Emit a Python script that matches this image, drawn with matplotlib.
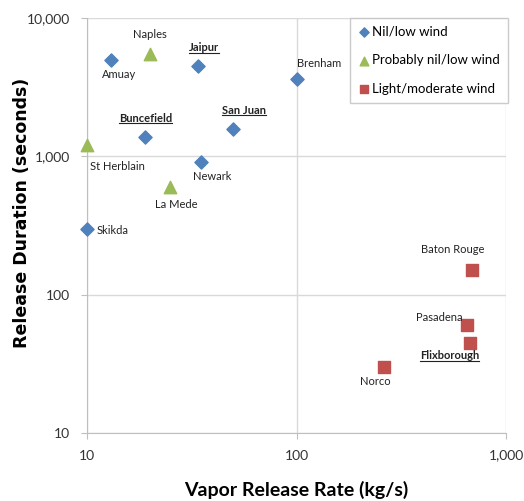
import matplotlib
matplotlib.use("Agg")
import matplotlib.pyplot as plt
from matplotlib.lines import Line2D
from matplotlib.ticker import FixedLocator, FuncFormatter, NullLocator

plt.rcParams['font.family'] = ['Lato', 'DejaVu Sans']

# incidents: name, release rate (kg/s), duration (s)
nil_names = ['Amuay', 'Jaipur', 'Buncefield', 'San Juan', 'Newark', 'Skikda', 'Brenham']
nil_rate = [13, 34, 19, 50, 35, 10, 100]
nil_dur = [5000, 4500, 1370, 1570, 905, 300, 3600]

prob_names = ['Naples', 'St Herblain', 'La Mede']
prob_rate = [20, 10, 25]
prob_dur = [5500, 1200, 600]

wind_names = ['Baton Rouge', 'Pasadena', 'Flixborough', 'Norco']
wind_rate = [690, 650, 675, 260]
wind_dur = [150, 60, 45, 30]

underlined = ['Jaipur', 'Buncefield', 'San Juan', 'Flixborough']

# label offsets in pixels (dx, dy, ha)
offsets = {
    'Amuay': (8, -15, 'center'), 'Jaipur': (6, 18, 'center'),
    'Buncefield': (0, 19, 'center'), 'San Juan': (11, 19, 'center'),
    'Newark': (11, -14, 'center'), 'Skikda': (10, -2, 'left'),
    'Brenham': (0, 16, 'left'), 'Naples': (0, 19, 'center'),
    'St Herblain': (3, -21, 'left'), 'La Mede': (6, -18, 'center'),
    'Baton Rouge': (-20, 21, 'center'), 'Pasadena': (-4, 8, 'right'),
    'Flixborough': (-21, -13, 'center'), 'Norco': (-8, -15, 'center'),
}

fig = plt.figure(figsize=(5.24, 5.01), dpi=100)
ax = fig.add_axes([0.166, 0.136, 0.8, 0.828])

ax.scatter(nil_rate, nil_dur, marker='D', s=45, color='#4F81BD', label='Nil/low wind', zorder=3, clip_on=False)
ax.scatter(prob_rate, prob_dur, marker='^', s=80, color='#9BBB59', label='Probably nil/low wind', zorder=3, clip_on=False)
ax.scatter(wind_rate, wind_dur, marker='s', s=70, color='#C0504D', label='Light/moderate wind', zorder=3, clip_on=False)

ul_texts = []
for names, xs, ys in [(nil_names, nil_rate, nil_dur), (prob_names, prob_rate, prob_dur),
                      (wind_names, wind_rate, wind_dur)]:
    for n, x, y in zip(names, xs, ys):
        dx, dy, ha = offsets[n]
        t = ax.annotate(n, (x, y), xytext=(dx, dy), textcoords='offset pixels',
                        ha=ha, va='center', fontsize=8, color='#222222',
                        fontweight='bold' if n in underlined else 'normal')
        if n in underlined:
            ul_texts.append(t)

ax.set_xscale('log')
ax.set_yscale('log')
ax.set_xlim(10, 1000)
ax.set_ylim(10, 10000)
ax.xaxis.set_major_locator(FixedLocator([10, 100, 1000]))
ax.yaxis.set_major_locator(FixedLocator([10, 100, 1000, 10000]))
ax.xaxis.set_minor_locator(NullLocator())
ax.yaxis.set_minor_locator(NullLocator())
fmt = FuncFormatter(lambda v, p: f'{int(round(v)):,}')
ax.xaxis.set_major_formatter(fmt)
ax.yaxis.set_major_formatter(fmt)
ax.tick_params(length=4, color='#BFBFBF', labelsize=10, labelcolor='#333333', pad=8)

ax.grid(True, color='#D9D9D9', linewidth=1)
ax.set_axisbelow(True)
for s in ['top', 'right']:
    ax.spines[s].set_visible(False)
for s in ['left', 'bottom']:
    ax.spines[s].set_color('#BFBFBF')

ax.set_xlabel('Vapor Release Rate (kg/s)', fontsize=14, fontweight='bold', labelpad=14)
ax.set_ylabel('Release Duration (seconds)', fontsize=12.5, fontweight='bold',
              family='DejaVu Sans', va='center')
ax.yaxis.set_label_coords(-0.155, 0.53)

leg = ax.legend(loc='upper right', fontsize=9.5, frameon=True, fancybox=False,
                handletextpad=0.1, handlelength=1.0, markerscale=0.7,
                borderaxespad=0.0, labelspacing=1.25, borderpad=0.6,
                bbox_to_anchor=(1.004, 1.0))
leg.get_frame().set_edgecolor('#BFBFBF')
leg.get_frame().set_linewidth(1)

# underline the bold labels
fig.canvas.draw()
r = fig.canvas.get_renderer()
W, H = fig.bbox.width, fig.bbox.height
for t in ul_texts:
    bb = t.get_window_extent(r)
    yy = (bb.y0 + 0.5) / H
    fig.add_artist(Line2D([bb.x0 / W, bb.x1 / W], [yy, yy], color='#222222', lw=0.8))

fig.savefig('out.png', dpi=100)
